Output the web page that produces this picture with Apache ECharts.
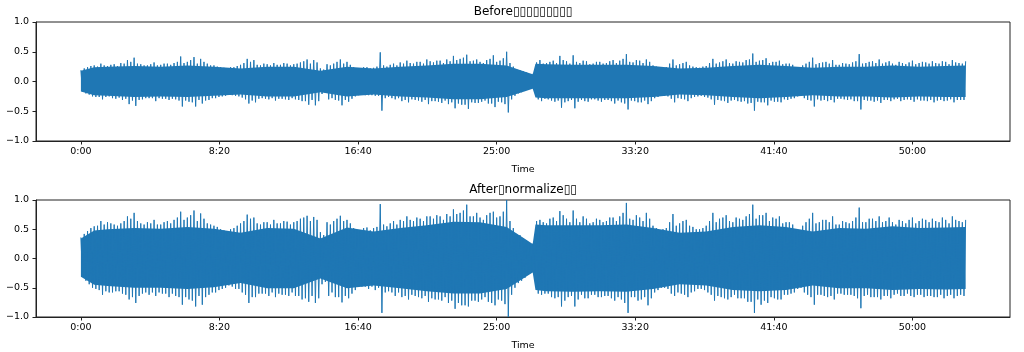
<!DOCTYPE html>
<html>
<head>
<meta charset="utf-8">
<script src="https://cdn.jsdelivr.net/npm/echarts@6/dist/echarts.min.js"></script>
<style>
  html, body { margin: 0; padding: 0; background: #fff; }
  #chart { width: 1024px; height: 352px; }
</style>
</head>
<body>
<div id="chart"></div>
<script>
// titles (missing glyphs in the original render as boxes)
const titleBefore = 'Before▯▯▯▯▯▯▯▯▯'
const titleAfter = 'After▯normalize▯▯'

// x ticks (seconds) and their labels
const xTickValues = [0, 500, 1000, 1500, 2000, 2500, 3000]
const xTickLabels = ['0:00', '8:20', '16:40', '25:00', '33:20', '41:40', '50:00']
const yTickLabels = ['−1.0', '−0.5', '0.0', '0.5', '1.0']

// waveform peaks, one column every 24 s (0 .. 3192 s), audio ends at 3194 s
// *Max / *Min : main peaks at the start of each column
// *Max2 / *Min2 : smaller peaks half a column later
const colStep = 24
const dataEnd = 3194
const beforeMax = [
  0.19, 0.24, 0.27, 0.30, 0.26, 0.29, 0.31, 0.36, 0.40, 0.29,
  0.27, 0.32, 0.28, 0.30, 0.31, 0.42, 0.33, 0.41, 0.38, 0.30,
  0.27, 0.24, 0.22, 0.24, 0.28, 0.38, 0.36, 0.27, 0.29, 0.31,
  0.28, 0.30, 0.29, 0.32, 0.37, 0.36, 0.22, 0.29, 0.30, 0.37,
  0.33, 0.24, 0.22, 0.24, 0.23, 0.49, 0.25, 0.30, 0.32, 0.35,
  0.30, 0.33, 0.37, 0.32, 0.35, 0.37, 0.43, 0.38, 0.45, 0.35,
  0.33, 0.36, 0.44, 0.35, 0.50, 0.25, 0.19,
  0.15, 0.13, 0.36, 0.31, 0.35, 0.43, 0.34, 0.44, 0.31, 0.34,
  0.30, 0.33, 0.31, 0.36, 0.35, 0.46, 0.32, 0.35, 0.37, 0.27,
  0.22, 0.24, 0.37, 0.29, 0.33, 0.25, 0.23, 0.26, 0.38, 0.32,
  0.37, 0.30, 0.33, 0.36, 0.47, 0.35, 0.39, 0.33, 0.35, 0.30,
  0.28, 0.22, 0.30, 0.40, 0.31, 0.33, 0.36, 0.28, 0.30, 0.32,
  0.46, 0.31, 0.34, 0.37, 0.32, 0.30, 0.33, 0.29, 0.35, 0.31,
  0.32, 0.34, 0.30, 0.33, 0.36, 0.31, 0.34
]
const beforeMin = [
  -0.17, -0.22, -0.26, -0.30, -0.25, -0.29, -0.31, -0.38, -0.41, -0.30,
  -0.28, -0.33, -0.29, -0.31, -0.30, -0.42, -0.34, -0.42, -0.37, -0.31,
  -0.28, -0.25, -0.22, -0.24, -0.27, -0.37, -0.35, -0.28, -0.30, -0.32,
  -0.29, -0.31, -0.30, -0.33, -0.39, -0.40, -0.21, -0.30, -0.31, -0.40,
  -0.34, -0.25, -0.22, -0.23, -0.24, -0.49, -0.26, -0.30, -0.33, -0.35,
  -0.31, -0.34, -0.38, -0.33, -0.36, -0.38, -0.45, -0.39, -0.46, -0.36,
  -0.34, -0.37, -0.43, -0.35, -0.52, -0.24, -0.18,
  -0.14, -0.12, -0.33, -0.30, -0.34, -0.44, -0.33, -0.45, -0.31, -0.34,
  -0.30, -0.34, -0.31, -0.37, -0.35, -0.47, -0.33, -0.35, -0.38, -0.28,
  -0.23, -0.25, -0.35, -0.29, -0.33, -0.26, -0.24, -0.27, -0.39, -0.32,
  -0.36, -0.31, -0.34, -0.37, -0.49, -0.35, -0.40, -0.34, -0.35, -0.31,
  -0.28, -0.23, -0.31, -0.42, -0.32, -0.33, -0.35, -0.29, -0.31, -0.33,
  -0.47, -0.32, -0.34, -0.36, -0.31, -0.30, -0.33, -0.30, -0.34, -0.32,
  -0.33, -0.35, -0.31, -0.32, -0.35, -0.31, -0.36
]
const beforeMax2 = [
  0.22, 0.26, 0.25, 0.27, 0.28, 0.26, 0.30, 0.33, 0.30, 0.27,
  0.29, 0.27, 0.30, 0.28, 0.33, 0.31, 0.36, 0.30, 0.33, 0.27,
  0.25, 0.23, 0.24, 0.26, 0.31, 0.33, 0.28, 0.30, 0.27, 0.28,
  0.31, 0.27, 0.30, 0.34, 0.30, 0.32, 0.20, 0.27, 0.33, 0.30,
  0.28, 0.22, 0.24, 0.22, 0.25, 0.27, 0.28, 0.27, 0.30, 0.31,
  0.33, 0.30, 0.34, 0.35, 0.31, 0.34, 0.36, 0.40, 0.34, 0.37,
  0.31, 0.38, 0.33, 0.39, 0.31, 0.21, 0.17, 0.12, 0.32, 0.30,
  0.33, 0.31, 0.36, 0.30, 0.33, 0.35, 0.29, 0.33, 0.30, 0.34,
  0.31, 0.38, 0.33, 0.36, 0.31, 0.33, 0.25, 0.24, 0.30, 0.27,
  0.31, 0.27, 0.24, 0.25, 0.31, 0.30, 0.34, 0.31, 0.34, 0.32,
  0.37, 0.33, 0.36, 0.31, 0.33, 0.29, 0.30, 0.24, 0.27, 0.33,
  0.29, 0.32, 0.30, 0.28, 0.31, 0.29, 0.34, 0.30, 0.33, 0.31,
  0.30, 0.34, 0.28, 0.31, 0.32, 0.29, 0.33, 0.30, 0.31, 0.34,
  0.29, 0.32, 0.30, 0.33
]
const beforeMin2 = [
  -0.20, -0.25, -0.26, -0.26, -0.28, -0.27, -0.29, -0.32, -0.31, -0.28,
  -0.28, -0.28, -0.29, -0.29, -0.32, -0.32, -0.35, -0.31, -0.32, -0.28,
  -0.26, -0.24, -0.23, -0.25, -0.30, -0.32, -0.29, -0.29, -0.28, -0.29,
  -0.30, -0.28, -0.31, -0.33, -0.31, -0.33, -0.19, -0.28, -0.32, -0.31,
  -0.29, -0.23, -0.23, -0.23, -0.24, -0.28, -0.28, -0.28, -0.31, -0.30,
  -0.32, -0.31, -0.33, -0.34, -0.32, -0.35, -0.37, -0.39, -0.35, -0.36,
  -0.32, -0.37, -0.34, -0.38, -0.30, -0.20, -0.16, -0.11, -0.30, -0.29,
  -0.32, -0.32, -0.35, -0.31, -0.34, -0.33, -0.30, -0.32, -0.31, -0.33,
  -0.32, -0.37, -0.32, -0.35, -0.32, -0.33, -0.26, -0.24, -0.29, -0.28,
  -0.30, -0.28, -0.25, -0.26, -0.30, -0.31, -0.33, -0.32, -0.33, -0.33,
  -0.36, -0.34, -0.35, -0.32, -0.34, -0.30, -0.29, -0.25, -0.28, -0.32,
  -0.30, -0.31, -0.31, -0.29, -0.30, -0.30, -0.33, -0.31, -0.32, -0.32,
  -0.31, -0.33, -0.29, -0.31, -0.31, -0.30, -0.32, -0.31, -0.32, -0.33,
  -0.30, -0.31, -0.31, -0.32
]
const afterMax = [
  0.36, 0.47, 0.55, 0.64, 0.62, 0.58, 0.60, 0.72, 0.78, 0.60,
  0.62, 0.66, 0.58, 0.64, 0.66, 0.80, 0.70, 0.82, 0.77, 0.60,
  0.56, 0.50, 0.46, 0.52, 0.60, 0.75, 0.70, 0.58, 0.62, 0.66,
  0.60, 0.63, 0.62, 0.68, 0.73, 0.71, 0.45, 0.62, 0.64, 0.73,
  0.66, 0.52, 0.48, 0.53, 0.52, 0.93, 0.55, 0.64, 0.66, 0.72,
  0.64, 0.68, 0.72, 0.68, 0.72, 0.76, 0.84, 0.78, 0.92, 0.72,
  0.70, 0.74, 0.80, 0.72, 1.00, 0.52, 0.40,
  0.30, 0.26, 0.66, 0.60, 0.70, 0.81, 0.68, 0.82, 0.62, 0.68,
  0.62, 0.66, 0.64, 0.70, 0.72, 0.95, 0.66, 0.70, 0.78, 0.56,
  0.48, 0.52, 0.76, 0.60, 0.66, 0.54, 0.50, 0.56, 0.78, 0.68,
  0.74, 0.62, 0.68, 0.72, 0.92, 0.74, 0.78, 0.70, 0.72, 0.62,
  0.58, 0.48, 0.62, 0.78, 0.62, 0.66, 0.72, 0.58, 0.62, 0.64,
  0.87, 0.62, 0.68, 0.72, 0.64, 0.62, 0.66, 0.60, 0.70, 0.64,
  0.66, 0.68, 0.62, 0.66, 0.72, 0.64, 0.66
]
const afterMin = [
  -0.31, -0.44, -0.52, -0.62, -0.58, -0.56, -0.60, -0.70, -0.76, -0.60,
  -0.62, -0.64, -0.60, -0.66, -0.64, -0.79, -0.70, -0.82, -0.79, -0.62,
  -0.58, -0.52, -0.46, -0.52, -0.58, -0.76, -0.66, -0.60, -0.64, -0.66,
  -0.62, -0.64, -0.64, -0.70, -0.74, -0.76, -0.44, -0.64, -0.66, -0.75,
  -0.68, -0.54, -0.48, -0.52, -0.54, -0.93, -0.56, -0.64, -0.66, -0.70,
  -0.64, -0.68, -0.74, -0.70, -0.72, -0.76, -0.86, -0.80, -0.82, -0.72,
  -0.70, -0.74, -0.80, -0.72, -1.00, -0.50, -0.38,
  -0.28, -0.24, -0.62, -0.60, -0.68, -0.82, -0.66, -0.82, -0.62, -0.68,
  -0.62, -0.66, -0.64, -0.72, -0.70, -0.93, -0.66, -0.70, -0.80, -0.58,
  -0.50, -0.52, -0.64, -0.60, -0.66, -0.56, -0.52, -0.58, -0.72, -0.66,
  -0.70, -0.62, -0.68, -0.74, -0.93, -0.79, -0.76, -0.68, -0.70, -0.62,
  -0.58, -0.50, -0.62, -0.79, -0.62, -0.66, -0.70, -0.60, -0.62, -0.64,
  -0.85, -0.62, -0.66, -0.70, -0.64, -0.62, -0.64, -0.60, -0.66, -0.62,
  -0.64, -0.66, -0.62, -0.64, -0.68, -0.62, -0.66
]
const afterMax2 = [
  0.42, 0.52, 0.56, 0.58, 0.60, 0.56, 0.64, 0.68, 0.64, 0.58,
  0.60, 0.58, 0.62, 0.60, 0.70, 0.66, 0.74, 0.64, 0.68, 0.58,
  0.54, 0.48, 0.50, 0.56, 0.64, 0.68, 0.60, 0.62, 0.58, 0.60,
  0.64, 0.58, 0.64, 0.70, 0.64, 0.66, 0.40, 0.58, 0.68, 0.64,
  0.60, 0.48, 0.52, 0.48, 0.54, 0.58, 0.60, 0.58, 0.64, 0.66,
  0.70, 0.64, 0.72, 0.74, 0.66, 0.72, 0.76, 0.82, 0.72, 0.78,
  0.66, 0.78, 0.70, 0.80, 0.64, 0.42, 0.34, 0.25, 0.64, 0.62,
  0.68, 0.64, 0.74, 0.62, 0.68, 0.72, 0.60, 0.68, 0.62, 0.70,
  0.64, 0.78, 0.68, 0.74, 0.64, 0.68, 0.52, 0.50, 0.62, 0.56,
  0.64, 0.56, 0.50, 0.52, 0.64, 0.62, 0.70, 0.64, 0.70, 0.66,
  0.76, 0.68, 0.74, 0.64, 0.68, 0.60, 0.62, 0.50, 0.56, 0.68,
  0.60, 0.66, 0.62, 0.58, 0.64, 0.60, 0.70, 0.62, 0.68, 0.64,
  0.62, 0.70, 0.58, 0.64, 0.66, 0.60, 0.68, 0.62, 0.64, 0.70,
  0.60, 0.66, 0.62, 0.68
]
const afterMin2 = [
  -0.38, -0.50, -0.54, -0.56, -0.58, -0.56, -0.62, -0.66, -0.64, -0.58,
  -0.58, -0.58, -0.60, -0.60, -0.66, -0.66, -0.72, -0.64, -0.66, -0.58,
  -0.54, -0.50, -0.48, -0.52, -0.62, -0.66, -0.60, -0.60, -0.58, -0.60,
  -0.62, -0.58, -0.64, -0.68, -0.64, -0.68, -0.40, -0.58, -0.66, -0.64,
  -0.60, -0.48, -0.48, -0.48, -0.50, -0.58, -0.58, -0.58, -0.64, -0.62,
  -0.66, -0.64, -0.68, -0.70, -0.66, -0.72, -0.76, -0.80, -0.72, -0.74,
  -0.66, -0.76, -0.70, -0.78, -0.62, -0.42, -0.33, -0.23, -0.60, -0.60,
  -0.66, -0.66, -0.72, -0.64, -0.70, -0.68, -0.62, -0.66, -0.64, -0.68,
  -0.66, -0.76, -0.66, -0.72, -0.66, -0.68, -0.54, -0.50, -0.60, -0.58,
  -0.62, -0.58, -0.52, -0.54, -0.62, -0.64, -0.68, -0.66, -0.68, -0.68,
  -0.74, -0.70, -0.72, -0.66, -0.70, -0.62, -0.60, -0.52, -0.58, -0.66,
  -0.62, -0.64, -0.64, -0.60, -0.62, -0.62, -0.68, -0.64, -0.66, -0.66,
  -0.64, -0.68, -0.60, -0.64, -0.64, -0.62, -0.66, -0.64, -0.66, -0.68,
  -0.62, -0.64, -0.64, -0.66
]

// solid body of the waveform (envelope without the spikes)
const coreTime = [0, 48, 96, 192, 288, 384, 480, 576, 672, 768, 864, 960, 1056, 1152, 1248, 1344, 1440, 1536, 1600, 1630,
  1640, 1680, 1776, 1872, 1968, 2064, 2160, 2256, 2352, 2448, 2544, 2640, 2736, 2832, 2928, 3024, 3120, 3192]
const beforeCoreHi = [0.18, 0.24, 0.25, 0.26, 0.25, 0.27, 0.25, 0.22, 0.25, 0.25, 0.18, 0.25, 0.22, 0.25, 0.27, 0.30, 0.30, 0.27, 0.17, 0.12,
  0.30, 0.29, 0.28, 0.28, 0.28, 0.26, 0.22, 0.23, 0.26, 0.28, 0.26, 0.23, 0.25, 0.25, 0.27, 0.25, 0.26, 0.27]
const beforeCoreLo = [-0.17, -0.23, -0.24, -0.26, -0.25, -0.26, -0.24, -0.22, -0.25, -0.25, -0.18, -0.25, -0.22, -0.25, -0.27, -0.30, -0.30, -0.26, -0.17, -0.12,
  -0.27, -0.28, -0.28, -0.28, -0.28, -0.26, -0.22, -0.23, -0.26, -0.28, -0.26, -0.23, -0.25, -0.25, -0.27, -0.25, -0.26, -0.26]
const afterCoreHi = [0.34, 0.48, 0.50, 0.52, 0.51, 0.54, 0.51, 0.44, 0.52, 0.51, 0.34, 0.53, 0.46, 0.52, 0.57, 0.63, 0.62, 0.54, 0.34, 0.25,
  0.58, 0.57, 0.57, 0.57, 0.58, 0.52, 0.44, 0.46, 0.54, 0.57, 0.54, 0.46, 0.52, 0.51, 0.55, 0.52, 0.53, 0.54]
const afterCoreLo = [-0.31, -0.45, -0.47, -0.50, -0.50, -0.52, -0.49, -0.42, -0.51, -0.51, -0.34, -0.51, -0.46, -0.51, -0.56, -0.60, -0.60, -0.52, -0.33, -0.24,
  -0.54, -0.56, -0.57, -0.56, -0.57, -0.52, -0.44, -0.46, -0.54, -0.56, -0.54, -0.46, -0.51, -0.51, -0.54, -0.52, -0.53, -0.52]

const waveColor = '#1f77b4'
const font = 'DejaVu Sans'

function zigzag (maxArr, minArr, maxArr2, minArr2) {
  const pts = []
  for (let i = 0; i < maxArr.length; i++) {
    const t = i * colStep
    const col = [[t, maxArr[i]], [t + colStep / 4, minArr[i]], [t + colStep / 2, maxArr2[i]], [t + colStep * 3 / 4, minArr2[i]]]
    col.forEach(p => { if (p[0] <= dataEnd) pts.push(p) })
  }
  return pts
}

function coreSeries (idx, hi, lo) {
  return {
    type: 'custom',
    xAxisIndex: idx,
    yAxisIndex: idx,
    clip: true,
    silent: true,
    data: [[0, 0]],
    renderItem (params, api) {
      const pts = []
      for (let k = 0; k < coreTime.length; k++) pts.push(api.coord([coreTime[k], hi[k]]))
      for (let k = coreTime.length - 1; k >= 0; k--) pts.push(api.coord([coreTime[k], lo[k]]))
      return { type: 'polygon', shape: { points: pts }, style: { fill: waveColor } }
    }
  }
}

function xAxisFor (idx) {
  return {
    type: 'value',
    gridIndex: idx,
    min: -162,
    max: 3352,
    name: 'Time',
    nameLocation: 'middle',
    nameGap: 24,
    nameTextStyle: { color: '#000', fontSize: 9.5, fontFamily: font },
    axisLine: { show: true, onZero: false, lineStyle: { color: '#222', width: 1 } },
    splitLine: { show: false },
    axisTick: { show: true, length: 3.5, customValues: xTickValues, lineStyle: { color: '#222', width: 1 } },
    axisLabel: {
      customValues: xTickValues,
      margin: 6,
      color: '#000',
      fontSize: 9.5,
      fontFamily: font,
      formatter: v => xTickLabels[xTickValues.indexOf(v)]
    }
  }
}

function yAxisFor (idx) {
  return {
    type: 'value',
    gridIndex: idx,
    min: -1,
    max: 1,
    interval: 0.5,
    axisLine: { show: true, onZero: false, lineStyle: { color: '#222', width: 1 } },
    splitLine: { show: false },
    axisTick: { show: true, length: 3.5, lineStyle: { color: '#222', width: 1 } },
    axisLabel: {
      margin: 7,
      color: '#000',
      fontSize: 9.5,
      fontFamily: font,
      formatter: v => yTickLabels[Math.round((v + 1) / 0.5)]
    }
  }
}

const chart = echarts.init(document.getElementById('chart'))
chart.setOption({
  animation: false,
  backgroundColor: '#fff',
  graphic: [
    { type: 'text', x: 523, y: 12, style: { text: titleBefore, fill: '#000', font: '12px "DejaVu Sans"', textAlign: 'center', textVerticalAlign: 'middle' } },
    { type: 'text', x: 523, y: 190, style: { text: titleAfter, fill: '#000', font: '12px "DejaVu Sans"', textAlign: 'center', textVerticalAlign: 'middle' } }
  ],
  grid: [
    { left: 36, right: 14, top: 22, height: 119, show: true, borderColor: '#222', borderWidth: 1, backgroundColor: '#fff' },
    { left: 36, right: 14, top: 200, height: 119, show: true, borderColor: '#222', borderWidth: 1, backgroundColor: '#fff' }
  ],
  xAxis: [xAxisFor(0), xAxisFor(1)],
  yAxis: [yAxisFor(0), yAxisFor(1)],
  series: [
    coreSeries(0, beforeCoreHi, beforeCoreLo),
    {
      type: 'line', xAxisIndex: 0, yAxisIndex: 0, showSymbol: false, silent: true, sampling: 'none',
      lineStyle: { color: waveColor, width: 1 },
      data: zigzag(beforeMax, beforeMin, beforeMax2, beforeMin2)
    },
    coreSeries(1, afterCoreHi, afterCoreLo),
    {
      type: 'line', xAxisIndex: 1, yAxisIndex: 1, showSymbol: false, silent: true, sampling: 'none',
      lineStyle: { color: waveColor, width: 1 },
      data: zigzag(afterMax, afterMin, afterMax2, afterMin2)
    }
  ]
})
</script>
</body>
</html>
